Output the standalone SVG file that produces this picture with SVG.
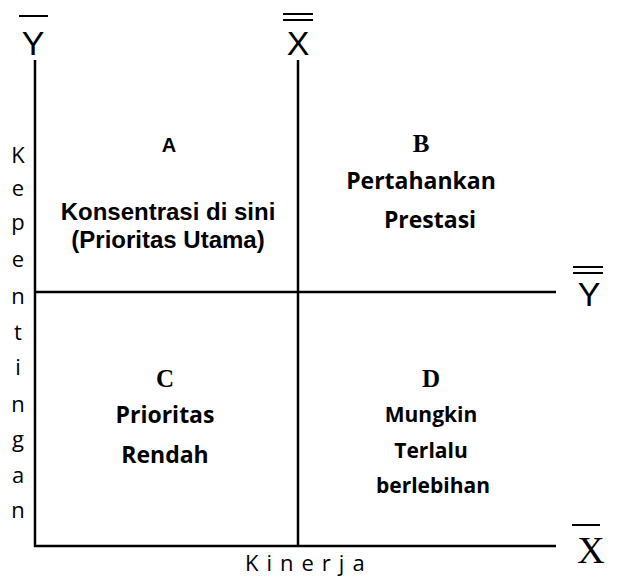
<svg xmlns="http://www.w3.org/2000/svg" width="617" height="578" viewBox="0 0 617 578">
<style>
.ax{stroke:#000;stroke-width:2.5;fill:none}
.bar{stroke:#000;stroke-width:2}
.sym{font-family:"Liberation Sans",Arial,sans-serif;font-size:34px;fill:#000}
.tm{font-family:"Liberation Serif","Times New Roman",serif;font-weight:bold;font-size:25px;fill:#000;text-anchor:middle}
.ar{font-family:"Liberation Sans",Arial,sans-serif;font-weight:bold;font-size:24px;fill:#000;text-anchor:middle}
.cb{font-family:"Open Sans","Noto Sans",sans-serif;font-weight:bold;font-size:23px;fill:#000;text-anchor:middle}
.cd{font-size:21px}
.lb{font-family:"Open Sans","Noto Sans",sans-serif;font-size:22px;fill:#000}
</style>
<g id="connectors">
<line class="ax" x1="35" y1="60" x2="35" y2="547"/>
<line class="ax" x1="298" y1="60" x2="298" y2="547"/>
<line class="ax" x1="34" y1="292" x2="556" y2="292"/>
<line class="ax" x1="34" y1="546" x2="556" y2="546"/>
</g>
<g id="label-ybar">
<line class="bar" x1="19" y1="16" x2="48" y2="16"/>
<text class="sym" x="33" y="55" text-anchor="middle">Y</text>
</g>
<g id="label-xdbar">
<line class="bar" x1="283" y1="14" x2="313" y2="14"/>
<line class="bar" x1="283" y1="20" x2="313" y2="20"/>
<text class="sym" x="298" y="55" text-anchor="middle">X</text>
</g>
<g id="label-ydbar">
<line class="bar" x1="573" y1="267" x2="603" y2="267"/>
<line class="bar" x1="573" y1="273" x2="603" y2="273"/>
<text class="sym" x="589" y="306" text-anchor="middle">Y</text>
</g>
<g id="label-xbar">
<line class="bar" x1="572" y1="525" x2="600" y2="525"/>
<text x="591" y="563" text-anchor="middle" style="font-family:'Liberation Serif','Times New Roman',serif;font-size:38px;fill:#000">X</text>
</g>
<g id="quadrant-a">
<text class="ar" x="169" y="152" style="font-size:20px">A</text>
<text class="ar" x="168" y="220">Konsentrasi di sini</text>
<text class="ar" x="168" y="248">(Prioritas Utama)</text>
</g>
<g id="quadrant-b">
<text class="tm" x="421" y="152">B</text>
<text class="cb" x="421" y="189">Pertahankan</text>
<text class="cb" x="430" y="228">Prestasi</text>
</g>
<g id="quadrant-c">
<text class="tm" x="165" y="387">C</text>
<text class="cb" x="165" y="423">Prioritas</text>
<text class="cb" x="165" y="463">Rendah</text>
</g>
<g id="quadrant-d">
<text class="tm" x="431" y="387">D</text>
<text class="cb cd" x="431" y="422">Mungkin</text>
<text class="cb cd" x="431" y="458">Terlalu</text>
<text class="cb cd" x="433" y="493">berlebihan</text>
</g>
<g id="label-kepentingan" class="lb" text-anchor="middle">
<text x="18" y="163">K</text>
<text x="18" y="196">e</text>
<text x="18" y="230">p</text>
<text x="18" y="267">e</text>
<text x="18" y="304">n</text>
<text x="18" y="340">t</text>
<text x="18" y="375">i</text>
<text x="18" y="412">n</text>
<text x="18" y="447">g</text>
<text x="18" y="483">a</text>
<text x="18" y="518">n</text>
</g>
<g id="label-kinerja">
<text class="lb" x="245" y="571" style="letter-spacing:8px">Kinerja</text>
</g>
</svg>
